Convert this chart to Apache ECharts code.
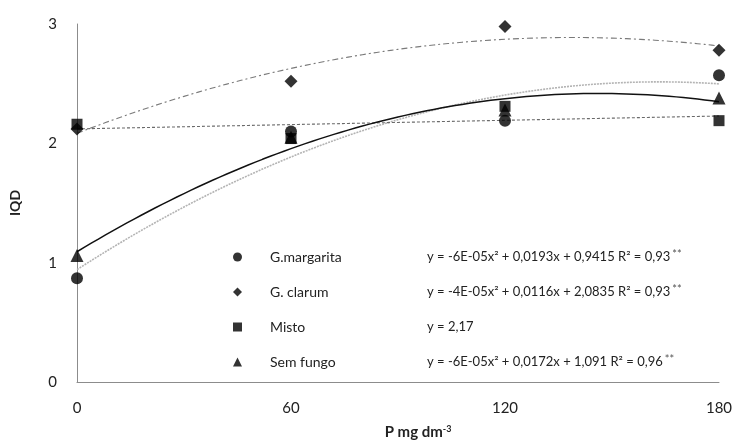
<!DOCTYPE html>
<html>
<head>
<meta charset="utf-8">
<script src="https://cdn.jsdelivr.net/npm/echarts@6/dist/echarts.min.js"></script>
<style>
  html, body { margin: 0; padding: 0; background: #fff; }
  #chart { width: 738px; height: 445px; }
</style>
</head>
<body>
<div id="chart"></div>
<script>
// Doses of P (mg dm-3) and IQD observed for each inoculation treatment
const doses = [0, 60, 120, 180];
const gMargarita = [0.87, 2.10, 2.19, 2.57];
const gClarum = [2.12, 2.52, 2.98, 2.78];
const misto = [2.16, 2.04, 2.31, 2.19];
const semFungo = [1.06, 2.05, 2.28, 2.38];

const seriesNames = ['G.margarita', 'G. clarum', 'Misto', 'Sem fungo'];
const equations = [
  'y = -6E-05x² + 0,0193x + 0,9415 R² = 0,93',
  'y = -4E-05x² + 0,0116x + 2,0835 R² = 0,93',
  'y = 2,17',
  'y = -6E-05x² + 0,0172x + 1,091 R² = 0,96'
];
const significance = ['**', '**', '', '**'];
const fitDegree = [2, 2, 1, 2];

const xTicks = { min: 0, max: 180, step: 60 };
const yTicks = { min: 0, max: 3, step: 1 };

const FONT = 'Lato, "Open Sans", sans-serif';

// Least-squares polynomial fit (degree 1 or 2) of the observed means
function polyFit(xs, ys, deg) {
  const n = deg + 1;
  const A = [], b = [];
  for (let r = 0; r < n; r++) {
    A.push(new Array(n).fill(0));
    b.push(0);
    for (let c = 0; c < n; c++) {
      A[r][c] = xs.reduce((s, x) => s + Math.pow(x, r + c), 0);
    }
    b[r] = xs.reduce((s, x, i) => s + Math.pow(x, r) * ys[i], 0);
  }
  for (let i = 0; i < n; i++) {
    let p = i;
    for (let k = i + 1; k < n; k++) if (Math.abs(A[k][i]) > Math.abs(A[p][i])) p = k;
    [A[i], A[p]] = [A[p], A[i]];
    [b[i], b[p]] = [b[p], b[i]];
    for (let k = i + 1; k < n; k++) {
      const f = A[k][i] / A[i][i];
      for (let c = i; c < n; c++) A[k][c] -= f * A[i][c];
      b[k] -= f * b[i];
    }
  }
  const coef = new Array(n).fill(0);
  for (let i = n - 1; i >= 0; i--) {
    let s = b[i];
    for (let c = i + 1; c < n; c++) s -= A[i][c] * coef[c];
    coef[i] = s / A[i][i];
  }
  return coef;
}

function trendPoints(ys, deg) {
  const coef = polyFit(doses, ys, deg);
  const pts = [];
  for (let x = doses[0]; x <= doses[doses.length - 1]; x += 2) {
    let y = 0;
    coef.forEach((c, i) => { y += c * Math.pow(x, i); });
    pts.push([x, y]);
  }
  return pts;
}

const groups = [gMargarita, gClarum, misto, semFungo];
const symbols = ['circle', 'diamond', 'rect', 'triangle'];
const symbolSizes = [12, 13, 11, 13];
const trendStyles = [
  { color: '#b4b4b4', width: 1.6, type: [2, 1] },
  { color: '#7a7a7a', width: 1.1, type: [6, 3, 2, 3] },
  { color: '#6a6a6a', width: 1.1, type: [3, 2] },
  { color: '#111111', width: 1.5, type: 'solid' }
];

const series = [];
groups.forEach((ys, i) => {
  series.push({
    name: seriesNames[i] + ' (ajuste)',
    type: 'line',
    data: trendPoints(ys, fitDegree[i]),
    showSymbol: false,
    silent: true,
    smooth: false,
    lineStyle: trendStyles[i],
    z: 2
  });
});
groups.forEach((ys, i) => {
  series.push({
    name: seriesNames[i],
    type: 'scatter',
    data: doses.map((x, k) => [x, ys[k]]),
    symbol: symbols[i],
    symbolSize: symbolSizes[i],
    itemStyle: { color: '#000' },
    z: 3
  });
});

const chart = echarts.init(document.getElementById('chart'), null, { renderer: 'canvas' });
chart.setOption({
  animation: false,
  backgroundColor: '#fff',
  grid: { left: 75, right: 19, top: 24, bottom: 49, containLabel: false },
  xAxis: {
    type: 'value',
    min: xTicks.min, max: xTicks.max, interval: xTicks.step,
    axisLine: { lineStyle: { color: '#8c8c8c', width: 1 } },
    axisTick: { show: false },
    splitLine: { show: false },
    axisLabel: { color: '#222', fontFamily: FONT, fontSize: 15, margin: 19 },
    name: '{a|P mg dm}{b|-3}',
    nameLocation: 'middle',
    nameGap: 43,
    nameTextStyle: {
      padding: [0, 0, 0, 40],
      rich: {
        a: { fontFamily: FONT, fontSize: 15, fontWeight: 'bold', color: '#222' },
        b: { fontFamily: FONT, fontSize: 9, fontWeight: 'bold', color: '#222', verticalAlign: 'top', lineHeight: 14 }
      }
    }
  },
  yAxis: {
    type: 'value',
    min: yTicks.min, max: yTicks.max, interval: yTicks.step,
    axisLine: { show: true, lineStyle: { color: '#8c8c8c', width: 1 } },
    axisTick: { show: false },
    splitLine: { show: false },
    axisLabel: { color: '#222', fontFamily: FONT, fontSize: 15, margin: 20 },
    name: 'IQD',
    nameLocation: 'middle',
    nameGap: 55,
    nameRotate: 90,
    nameTextStyle: { fontFamily: FONT, fontSize: 14, fontWeight: 'bold', color: '#222' }
  },
  legend: {
    orient: 'vertical',
    left: 228,
    top: 244,
    itemWidth: 9,
    itemHeight: 9,
    itemGap: 20,
    data: seriesNames.map((n, i) => ({ name: n, icon: symbols[i] })),
    itemStyle: { color: '#000' },
    formatter: name => {
      const i = seriesNames.indexOf(name);
      return `{n|${name}}{e|${equations[i]}}{s|${significance[i]}}`;
    },
    textStyle: {
      rich: {
        n: { fontFamily: FONT, fontSize: 14, color: '#222', width: 157, padding: [0, 0, 0, 23], lineHeight: 16 },
        e: { fontFamily: FONT, fontSize: 13, color: '#222', lineHeight: 16 },
        s: { fontFamily: FONT, fontSize: 11, color: '#555', verticalAlign: 'top', lineHeight: 16, padding: [0, 0, 0, 2] }
      }
    }
  },
  series: series
});
</script>
</body>
</html>
